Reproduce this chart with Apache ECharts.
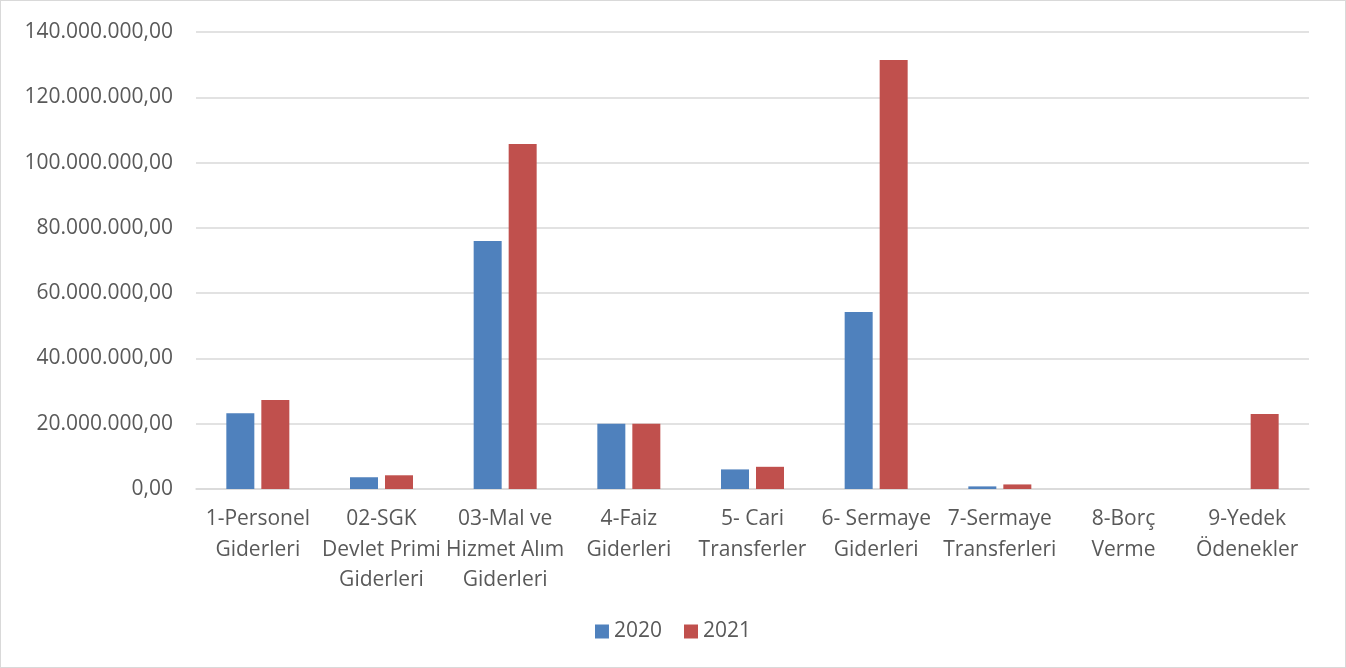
<!DOCTYPE html>
<html>
<head>
<meta charset="utf-8">
<script src="https://cdn.jsdelivr.net/npm/echarts@6/dist/echarts.min.js"></script>
<style>
  html, body { margin: 0; padding: 0; background: #fff; }
  #chart { width: 1344px; height: 666px; border: 1px solid #d9d9d9; }
</style>
</head>
<body>
<div id="chart"></div>
<script>
    // kategoriler (satır sonları eksen etiketinde olduğu gibi)
    var categories = [
        '1-Personel\nGiderleri',
        '02-SGK\nDevlet Primi\nGiderleri',
        '03-Mal ve\nHizmet Alım\nGiderleri',
        '4-Faiz\nGiderleri',
        '5- Cari\nTransferler',
        '6- Sermaye\nGiderleri',
        '7-Sermaye\nTransferleri',
        '8-Borç\nVerme',
        '9-Yedek\nÖdenekler'
    ]
    var series2020 = [23200000, 3600000, 76000000, 20000000, 6000000, 54200000, 800000, 0, 0]
    var series2021 = [27300000, 4200000, 105700000, 20000000, 6800000, 131400000, 1400000, 0, 23000000]

    var chart = echarts.init(document.getElementById('chart'))

    function fmt(v) {
        var s = Math.round(v).toString().replace(/\B(?=(\d{3})+(?!\d))/g, '.')
        return s + ',00'
    }

    chart.setOption({
        animation: false,
        color: ['#4f81bd', '#c0504d'],
        textStyle: {
            fontFamily: '"Open Sans", "Noto Sans", sans-serif'
        },
        grid: {
            left: 195,
            right: 36,
            top: 31,
            bottom: 178
        },
        legend: {
            bottom: 20,
            left: 'center',
            itemWidth: 14,
            itemHeight: 14,
            itemGap: 22,
            icon: 'rect',
            textStyle: {
                fontSize: 21,
                color: '#595959'
            },
            data: ['2020', '2021']
        },
        xAxis: {
            type: 'category',
            data: categories,
            axisTick: { show: false },
            axisLine: { lineStyle: { color: '#d9d9d9', width: 1.5 } },
            axisLabel: {
                fontSize: 21,
                color: '#595959',
                lineHeight: 30.5,
                margin: 15,
                interval: 0
            }
        },
        yAxis: {
            type: 'value',
            min: 0,
            max: 140000000,
            interval: 20000000,
            axisLine: { show: false },
            axisTick: { show: false },
            splitLine: { lineStyle: { color: '#d9d9d9', width: 1.5 } },
            axisLabel: {
                fontSize: 21,
                color: '#595959',
                margin: 23,
                formatter: fmt
            }
        },
        series: [
            {
                name: '2020',
                type: 'bar',
                data: series2020,
                barWidth: 28,
                barGap: '25%'
            },
            {
                name: '2021',
                type: 'bar',
                data: series2021,
                barWidth: 28,
                barGap: '25%'
            }
        ]
    })
</script>
</body>
</html>
